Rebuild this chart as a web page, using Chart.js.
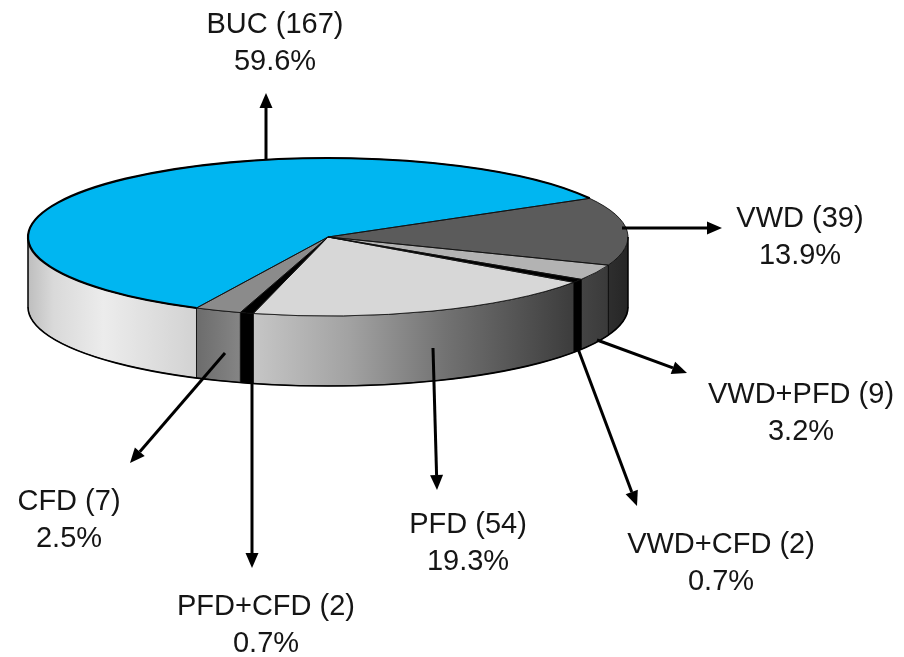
<!DOCTYPE html>
<html>
<head>
<meta charset="utf-8">
<title>Distribution of diagnoses</title>
<script src="https://cdn.jsdelivr.net/npm/chart.js@4.4.1/dist/chart.umd.min.js"></script>
<style>
  html, body { margin: 0; padding: 0; background: #ffffff; }
  #wrap { position: relative; width: 904px; height: 657px; }
</style>
</head>
<body>
<div id="wrap"><canvas id="c"></canvas></div>
<script>
// ---- data ----
const categories = ['BUC', 'VWD', 'VWD+PFD', 'VWD+CFD', 'PFD', 'PFD+CFD', 'CFD'];
const counts = [167, 39, 9, 2, 54, 2, 7];
const total = counts.reduce((s, v) => s + v, 0);
const percents = counts.map(v => (v / total * 100).toFixed(1) + '%');

// ---- styles ----
const topColors = ['#00b6f1', '#5b5b5b', '#b3b3b3', '#000000', '#d7d7d7', '#000000', '#8b8b8b'];
const wallStops = [
  [[0, '#bebebe'], [0.15, '#d9d9d9'], [0.45, '#ececec'], [1, '#d2d2d2']],
  [[0, '#2e2e2e'], [1, '#262626']],
  [[0, '#444444'], [1, '#3a3a3a']],
  [[0, '#000000'], [1, '#000000']],
  [[0, '#c6c6c6'], [0.3, '#a2a2a2'], [0.6, '#727272'], [1, '#3c3c3c']],
  [[0, '#000000'], [1, '#000000']],
  [[0, '#6c6c6c'], [1, '#858585']]
];

// tilted disc geometry (screen pixels)
const DISC = { cx: 328, cy: 237, rx: 300, ry: 79, depth: 70 };

// callout arrows and label anchors, in slice order
const callouts = [
  { from: [266, 160], to: [266, 93],  text: [275, 33] },
  { from: [622, 228], to: [722, 228], text: [800, 227] },
  { from: [597, 340], to: [687, 373], text: [801, 403] },
  { from: [577, 346], to: [637, 506], text: [721, 553] },
  { from: [433, 348], to: [437, 490], text: [468, 533] },
  { from: [252, 383], to: [252, 568], text: [266, 615] },
  { from: [225, 353], to: [130, 463], text: [69, 510] }
];
const LINE_GAP = 37;
const LABEL_FONT = '29px "Liberation Sans", Arial, Helvetica, sans-serif';

// parts of an angular range that lie on the near (lower) half of the disc
function frontSpans(s, e) {
  const TAU = Math.PI * 2;
  const off = Math.floor(s / TAU) * TAU;
  s -= off; e -= off;
  const out = [];
  [[0, Math.PI], [TAU, TAU + Math.PI]].forEach(([lo, hi]) => {
    const t0 = Math.max(s, lo), t1 = Math.min(e, hi);
    if (t1 > t0) out.push([t0 - (lo > 0 ? TAU : 0), t1 - (lo > 0 ? TAU : 0)]);
  });
  return out;
}

function drawArrow(ctx, x0, y0, x1, y1) {
  const ang = Math.atan2(y1 - y0, x1 - x0);
  const head = 15, half = 6.5;
  const bx = x1 - head * Math.cos(ang), by = y1 - head * Math.sin(ang);
  ctx.beginPath();
  ctx.moveTo(x0, y0);
  ctx.lineTo(bx, by);
  ctx.lineWidth = 3;
  ctx.strokeStyle = '#000';
  ctx.lineCap = 'butt';
  ctx.stroke();
  ctx.beginPath();
  ctx.moveTo(x1, y1);
  ctx.lineTo(bx + half * Math.sin(ang), by - half * Math.cos(ang));
  ctx.lineTo(bx - half * Math.sin(ang), by + half * Math.cos(ang));
  ctx.closePath();
  ctx.fillStyle = '#000';
  ctx.fill();
}

const tiltedPie = {
  id: 'tiltedPie',
  beforeDatasetsDraw(chart) {
    const ctx = chart.ctx;
    const arcs = chart.getDatasetMeta(0).data;
    const { cx, cy, rx, ry, depth } = DISC;

    // side walls of the slices facing the viewer
    arcs.forEach((arc, i) => {
      frontSpans(arc.startAngle, arc.endAngle).forEach(([t0, t1]) => {
        const xa = cx + rx * Math.cos(t0), xb = cx + rx * Math.cos(t1);
        const g = ctx.createLinearGradient(Math.min(xa, xb), 0, Math.max(xa, xb), 0);
        wallStops[i].forEach(([p, c]) => g.addColorStop(p, c));
        ctx.beginPath();
        ctx.ellipse(cx, cy, rx, ry, 0, t0, t1, false);
        ctx.ellipse(cx, cy + depth, rx, ry, 0, t1, t0, true);
        ctx.closePath();
        ctx.fillStyle = g;
        ctx.fill();
        ctx.lineWidth = 1;
        ctx.strokeStyle = 'rgba(0,0,0,0.75)';
        ctx.stroke();
      });
    });

    // lay the pie flat: map the library's circle onto the disc's top ellipse
    const a = arcs[0];
    const R = a.outerRadius;
    ctx.save();
    ctx.translate(cx, cy);
    ctx.scale(rx / R, ry / R);
    ctx.translate(-a.x, -a.y);
  },
  afterDatasetsDraw(chart) {
    const ctx = chart.ctx;
    ctx.restore();
    const arcs = chart.getDatasetMeta(0).data;
    const { cx, cy, rx, ry, depth } = DISC;

    // slice outlines on the top face
    arcs.forEach(arc => {
      ctx.beginPath();
      ctx.moveTo(cx, cy);
      ctx.ellipse(cx, cy, rx, ry, 0, arc.startAngle, arc.endAngle, false);
      ctx.closePath();
      ctx.lineWidth = 1;
      ctx.strokeStyle = 'rgba(15,15,15,0.85)';
      ctx.stroke();
    });
    // heavier rim on the leading slice
    const lead = arcs[0];
    ctx.beginPath();
    ctx.ellipse(cx, cy, rx, ry, 0, lead.startAngle, lead.endAngle, false);
    ctx.lineWidth = 2.2;
    ctx.strokeStyle = '#000';
    ctx.stroke();

    // base rim and silhouette edges
    ctx.beginPath();
    ctx.ellipse(cx, cy + depth, rx, ry, 0, 0, Math.PI, false);
    ctx.lineWidth = 1.6;
    ctx.strokeStyle = '#000';
    ctx.stroke();
    ctx.beginPath();
    ctx.moveTo(cx - rx, cy); ctx.lineTo(cx - rx, cy + depth);
    ctx.moveTo(cx + rx, cy); ctx.lineTo(cx + rx, cy + depth);
    ctx.lineWidth = 1.2;
    ctx.stroke();

    // callouts
    ctx.font = LABEL_FONT;
    ctx.textAlign = 'center';
    ctx.textBaseline = 'alphabetic';
    callouts.forEach((c, i) => {
      drawArrow(ctx, c.from[0], c.from[1], c.to[0], c.to[1]);
      ctx.fillStyle = '#151515';
      ctx.fillText(categories[i] + ' (' + counts[i] + ')', c.text[0], c.text[1]);
      ctx.fillText(percents[i], c.text[0], c.text[1] + LINE_GAP);
    });
  }
};

new Chart(document.getElementById('c'), {
  type: 'pie',
  data: {
    labels: categories,
    datasets: [{
      data: counts,
      backgroundColor: topColors,
      borderWidth: 0,
      hoverOffset: 0,
      clip: false
    }]
  },
  options: {
    responsive: true,
    maintainAspectRatio: false,
    animation: false,
    events: [],
    rotation: 206,
    layout: { padding: { left: 28, right: 276, top: 28, bottom: 29 } },
    plugins: {
      legend: { display: false },
      tooltip: { enabled: false }
    }
  },
  plugins: [tiltedPie]
});
</script>
</body>
</html>
